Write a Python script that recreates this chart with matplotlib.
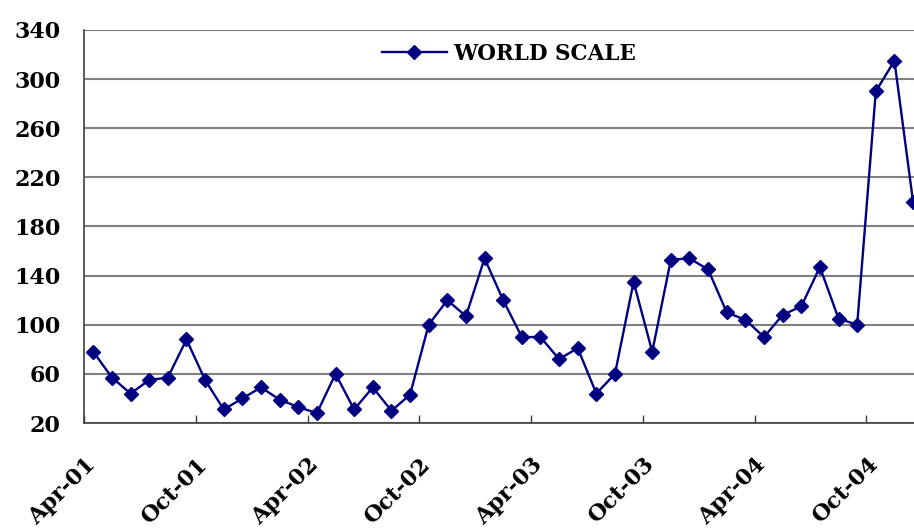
import numpy as np
import matplotlib
matplotlib.use("Agg")
import matplotlib.pyplot as plt
import matplotlib.transforms as mtransforms

# monthly values, Apr-01 .. Dec-04
world_scale = [78, 57, 44, 55, 57, 88, 55, 31, 40, 49, 39, 33, 28, 60, 31, 49, 30, 43,
               100, 120, 107, 154, 120, 90, 90, 72, 81, 44, 60, 135, 78, 153, 154,
               145, 110, 104, 90, 108, 115, 147, 105, 100, 290, 315, 200]
tick_labels = ["Apr-01", "Oct-01", "Apr-02", "Oct-02", "Apr-03", "Oct-03", "Apr-04", "Oct-04"]
y_ticks = [20, 60, 100, 140, 180, 220, 260, 300, 340]

plt.rcParams['font.family'] = 'DejaVu Serif'
plt.rcParams['font.weight'] = 'bold'

fig = plt.figure(figsize=(9.14, 5.30), dpi=100)
ax = fig.add_axes([84 / 914, 1 - 423 / 530, 1 - 84 / 914, (423 - 30) / 530])

x = np.arange(len(world_scale))
ax.plot(x, world_scale, color='#000080', lw=1.7, marker='D', markersize=7,
        markerfacecolor='#000080', markeredgecolor='#000080', label='WORLD SCALE',
        zorder=3)

ax.set_ylim(20, 340)
ax.set_yticks(y_ticks)
ax.set_xlim(-0.5, 44.05)
ax.set_xticks(np.arange(len(tick_labels)) * 6 - 0.5)
ax.set_xticklabels(tick_labels, rotation=45, ha='right', rotation_mode='anchor')

# nudge the slanted month labels a little to the left
shift = mtransforms.ScaledTranslation(-8 / 100, 0, fig.dpi_scale_trans)
for lab in ax.get_xticklabels():
    lab.set_transform(lab.get_transform() + shift)

ax.yaxis.grid(True, color='#808080', lw=1.5)
ax.set_axisbelow(True)
for s in ['top', 'right']:
    ax.spines[s].set_visible(False)
for s in ['left', 'bottom']:
    ax.spines[s].set_color('#404040')
    ax.spines[s].set_linewidth(1.2)

ax.tick_params(axis='y', length=0, pad=17, labelsize=16)
ax.tick_params(axis='x', direction='in', length=6, width=1, color='#404040',
               pad=22, labelsize=16)

leg = ax.legend(loc='center', bbox_to_anchor=(0.512, 0.94), frameon=False,
                fontsize=15.5, handlelength=3, handletextpad=0.3)

fig.savefig('out.png', dpi=100)
